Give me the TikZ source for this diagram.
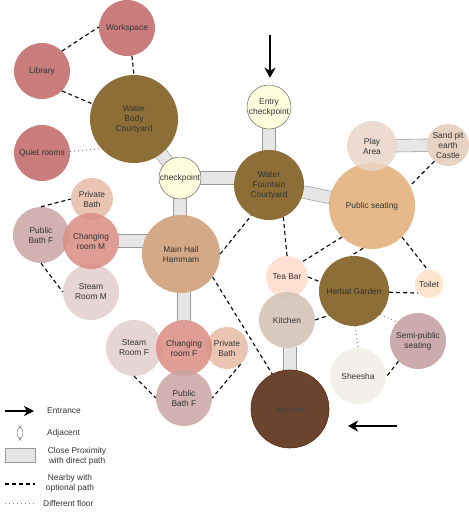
\documentclass[tikz,border=0pt]{standalone}
\usepackage{fontspec}
\setmainfont{Liberation Sans}
\usetikzlibrary{arrows.meta,calc}
\definecolor{txt}{HTML}{333333}
\definecolor{redroom}{HTML}{C26565}
\definecolor{brownc}{HTML}{8D6E37}
\definecolor{cpfill}{HTML}{FFFFE0}
\definecolor{playc}{HTML}{E9D5C6}
\definecolor{sandc}{HTML}{E8D2C2}
\definecolor{pubseatc}{HTML}{E1AD74}
\definecolor{mainc}{HTML}{D3A987}
\definecolor{privc}{HTML}{E8BBA7}
\definecolor{pubbathc}{HTML}{CAA5A3}
\definecolor{steamc}{HTML}{E3CDCD}
\definecolor{changec}{HTML}{D98C82}
\definecolor{teac}{HTML}{FFDACB}
\definecolor{kitchenc}{HTML}{D3C0B4}
\definecolor{toiletc}{HTML}{FFE1C6}
\definecolor{semic}{HTML}{C29C9F}
\definecolor{sheeshac}{HTML}{F1ECE6}
\definecolor{servicec}{HTML}{6A442E}
\definecolor{servicel}{HTML}{5A2D0C}
\definecolor{barfill}{HTML}{E6E6E6}
\definecolor{barline}{HTML}{999999}
\pgfdeclarelayer{bg}
\pgfsetlayers{bg,main}
\begin{document}
\begin{tikzpicture}[x=1pt,y=-1pt,
  room/.style={circle, inner sep=0pt, align=center, text=txt,
    font=\fontsize{8.4}{10}\selectfont},
  soft/.style={room, fill opacity=0.85, text opacity=1},
  cpnode/.style={room, fill=cpfill, draw=gray!80!black, line width=0.5pt},
  barlink/.style={draw=barline, line width=0.6pt, double=barfill,
    double distance=12pt, line cap=butt, shorten <=-1.5pt, shorten >=-1.5pt},
  near/.style={draw=black, line width=1.1pt, dash pattern=on 4pt off 3pt},
  floor/.style={draw=gray, line width=1pt, dash pattern=on 1pt off 3pt},
  entrance/.style={draw=black, line width=2pt,
    -{Stealth[length=10pt,width=11pt,inset=3pt]}},
  legtext/.style={text=txt, font=\fontsize{8.4}{10}\selectfont, inner sep=0pt}]
\useasboundingbox (0,0) rectangle (469,512);

% rooms
\node[soft, fill=redroom, minimum size=56pt] (workspace) at (127,28) {Workspace};
\node[soft, fill=redroom, minimum size=56pt] (library) at (42,71) {Library};
\node[soft, fill=redroom, minimum size=56pt] (quiet) at (42,153) {Quiet rooms};
\node[room, fill=brownc, minimum size=88pt] (waterbody) at (134,119) {Water\\Body\\Courtyard};
\node[cpnode, minimum size=42pt] (cp) at (180,178) {checkpoint};
\node[cpnode, minimum size=44pt] (entrycp) at (269,107) {Entry\\checkpoint};
\node[room, fill=brownc, minimum size=70pt] (fountain) at (269,185) {Water\\Fountain\\Courtyard};
\node[soft, fill=pubseatc, minimum size=86pt] (pubseat) at (372,206) {Public seating};
\node[soft, fill=playc, minimum size=50pt] (play) at (372,146) {Play\\Area};
\node[room, fill=sandc, minimum size=42pt] (sand) at (448,145) {Sand pit\\earth\\Castle};
\node[room, fill=mainc, minimum size=78pt] (mainhall) at (181,254) {Main Hall\\Hammam};
\node[soft, fill=privc, minimum size=42pt] (privM) at (92,199) {Private\\Bath};
\node[soft, fill=pubbathc, minimum size=56pt] (pubbathL) at (41,235) {Public\\Bath F};
\node[soft, fill=steamc, minimum size=56pt] (steamM) at (91,292) {Steam\\Room M};
\node[soft, fill=changec, minimum size=56pt] (chM) at (91,241) {Changing\\room M};
\node[soft, fill=steamc, minimum size=56pt] (steamF) at (134,348) {Steam\\Room F};
\node[soft, fill=privc, minimum size=42pt] (privF) at (227,348) {Private\\Bath};
\node[soft, fill=changec, minimum size=56pt] (chF) at (184,348) {Changing\\room F};
\node[soft, fill=pubbathc, minimum size=56pt] (pubbathB) at (184,398) {Public\\Bath F};
\node[soft, fill=teac, minimum size=42pt] (teabar) at (287,277) {Tea Bar};
\node[soft, fill=kitchenc, minimum size=56pt] (kitchen) at (287,320) {Kitchen};
\node[room, fill=brownc, minimum size=70pt] (herbal) at (354,291) {Herbal Garden};
\node[soft, fill=toiletc, minimum size=28pt] (toilet) at (429,284) {Toilet};
\node[soft, fill=semic, minimum size=56pt] (semi) at (418,341) {Semi-public\\seating};
\node[soft, fill=sheeshac, minimum size=56pt] (sheesha) at (358,376) {Sheesha};
\node[room, fill=servicec, draw=servicel, line width=0.6pt, minimum size=78pt, text=black!75] (service) at (290,409) {Service};

% close proximity bars (under the rooms)
\begin{pgfonlayer}{bg}
\draw[barlink] (waterbody.center) -- (cp.center);
\draw[barlink] (cp.center) -- (cp.center -| fountain.center);
\draw[barlink] (cp.center) -- (cp.center |- mainhall.center);
\draw[barlink] (entrycp.center) -- (fountain.center);
\draw[barlink] (fountain.center) -- (pubseat);
\draw[barlink] (play) -- (sand);
\draw[barlink] (chM.east) -- (chM.east -| mainhall.center);
\draw[barlink] (chF.north |- mainhall.center) -- (chF.north);
\draw[barlink] (kitchen.south -| service.center) -- (service.center);
\end{pgfonlayer}

% nearby with optional path
\draw[near] (library.45) -- (workspace.178);
\draw[near] (workspace.-80) -- (waterbody.90);
\draw[near] (library.-45) -- (waterbody.160);
\draw[near] (pubbathL.90) -- (privM.180);
\draw[near] (pubbathL.-90) -- (steamM.180);
\draw[near] (mainhall.0) -- (fountain.240);
\draw[near] (mainhall.-36) -- (service.117);
\draw[near] (privF.-50) -- (pubbathB.0);
\draw[near] (steamF.-90) -- (pubbathB.180);
\draw[near] (fountain.-66) -- (teabar.90);
\draw[near] (pubseat.226) -- (teabar.45);
\draw[near] (pubseat.-102) -- (herbal.95);
\draw[near] (pubseat.-46) -- (toilet.95);
\draw[near] (sand.230) -- (pubseat.28);
\draw[near] (teabar.0) -- (herbal.165);
\draw[near] (herbal.-2) -- (toilet.220);
\draw[near] (kitchen.0) -- (herbal.224);
\draw[near] (semi.226) -- (sheesha.-2);

% different floor
\draw[floor] (quiet.3) -- (waterbody.222);
\draw[floor] (herbal.-88) -- (sheesha.90);
\draw[floor] (herbal.-42) -- (semi.138);

% entrances
\coordinate (topArrowStart) at (270,35);
\draw[entrance, shorten >=7pt] (topArrowStart) -- (entrycp.north -| topArrowStart);
\coordinate (sideArrowStart) at (397,426);
\coordinate (sideArrowEnd) at (348,426);
\draw[entrance] (sideArrowStart) -- (sideArrowEnd);

% legend
\coordinate (legA1) at (5,411);
\coordinate (legA2) at (34,411);
\draw[entrance, -{Stealth[length=10pt,width=10pt,inset=3pt]}] (legA1) -- (legA2);
\node[legtext, anchor=west] (legEntrance) at (47,411) {Entrance};

\coordinate (legAdj) at (20,433);
\draw[gray, line width=0.5pt] (legAdj) ellipse [x radius=3pt, y radius=5.5pt];
\draw[gray, line width=0.4pt] ($(legAdj)+(-1.5,-7.5)$) -- ($(legAdj)+(1.5,-4.5)$)
  ($(legAdj)+(1.5,-7.5)$) -- ($(legAdj)+(-1.5,-4.5)$)
  ($(legAdj)+(-1.5,7.5)$) -- ($(legAdj)+(1.5,4.5)$)
  ($(legAdj)+(1.5,7.5)$) -- ($(legAdj)+(-1.5,4.5)$);
\node[legtext, anchor=west] (legAdjacent) at (47,433) {Adjacent};

\coordinate (legB1) at (5,448);
\coordinate (legB2) at (35,462);
\draw[fill=barfill, draw=barline, line width=0.6pt] (legB1) rectangle (legB2);
\node[legtext, align=center] (legClose) at (77,456) {Close Proximity\\with direct path};

\coordinate (legC1) at (5,484);
\coordinate (legC2) at (35,484);
\draw[near] (legC1) -- (legC2);
\node[legtext, align=center] (legNearby) at (70,483) {Nearby with\\optional path};

\coordinate (legD1) at (5,503);
\coordinate (legD2) at (35,503);
\draw[floor] (legD1) -- (legD2);
\node[legtext, anchor=west] (legFloor) at (43,503) {Different floor};
\end{tikzpicture}
\end{document}
